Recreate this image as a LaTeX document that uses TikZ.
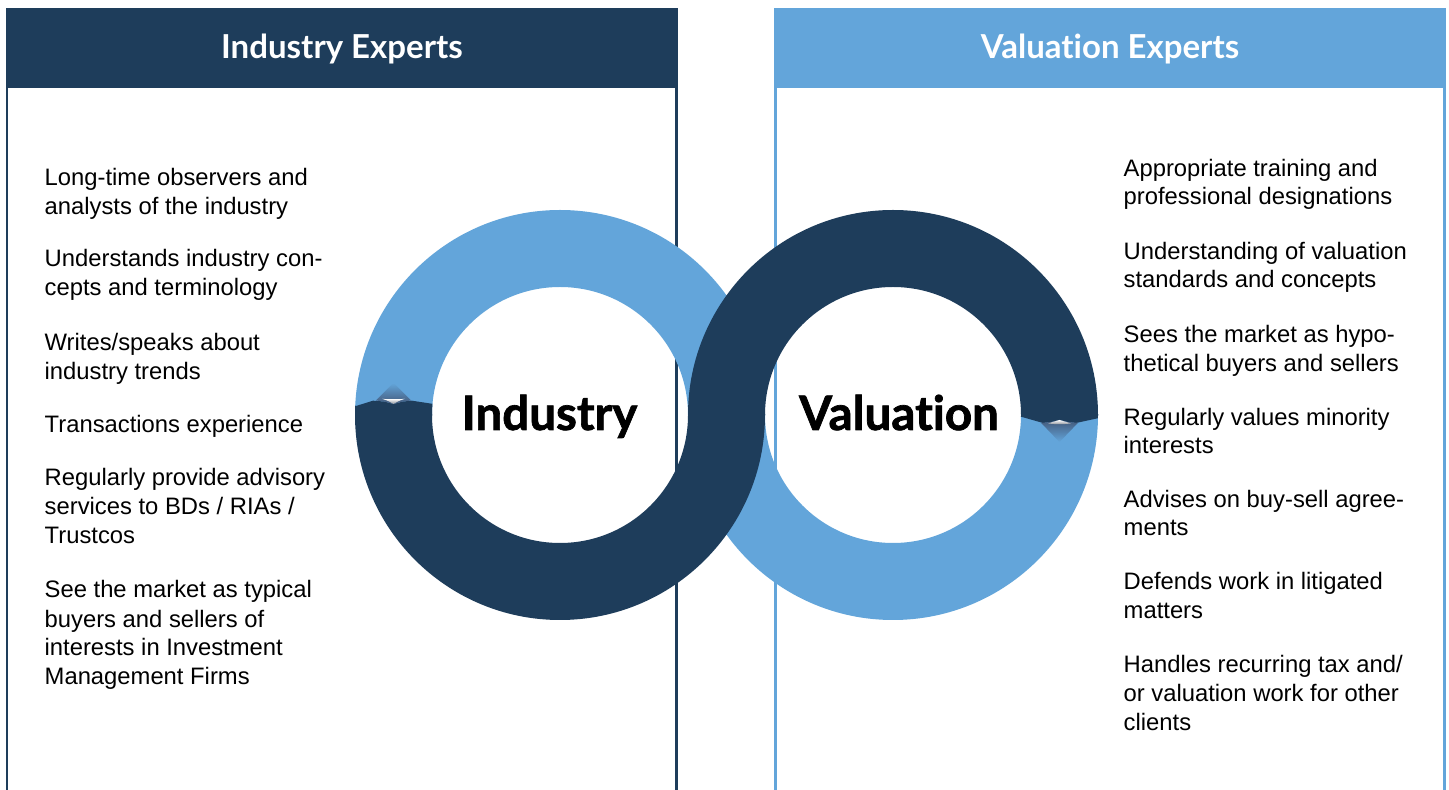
\documentclass[tikz,border=0pt]{standalone}
\usepackage{fontspec}
\setmainfont{Liberation Sans}
\newfontfamily\headfont{Lato}[Ligatures=NoCommon]
\newfontfamily\ringfont{Lato}[Ligatures=NoCommon,BoldFeatures={FakeBold=1.5}]
\definecolor{navy}{HTML}{1E3D5B}
\definecolor{sky}{HTML}{63A5DA}
\definecolor{silverlo}{HTML}{8A9099}
\definecolor{shadowc}{HTML}{43597A}
\tikzset{
  item/.style={anchor=base west, inner sep=0pt, font=\fontsize{23.8}{28}\selectfont, text=black},
  headtxt/.style={anchor=base, inner sep=0pt, text=white, font=\headfont\bfseries\fontsize{33}{36}\selectfont},
  ringtxt/.style={anchor=base, inner sep=0pt, text=black, font=\ringfont\bfseries\fontsize{47.5}{50}\selectfont},
  boxline/.style={line width=2.4pt},
}
\begin{document}
\begin{tikzpicture}[x=1pt,y=1pt]
\useasboundingbox (0,0) rectangle (1449,790);
\fill[white] (0,0) rectangle (1449,790);

% box borders
\draw[boxline,navy] (7.2,702) -- (7.2,0);
\draw[boxline,navy] (676.5,702) -- (676.5,0);
\draw[boxline,sky] (775.3,702) -- (775.3,0);
\draw[boxline,sky] (1444.6,702) -- (1444.6,0);

% headers
\fill[navy] (6,702) rectangle (678,782);
\fill[sky] (774,702) rectangle (1446,782);
\node[headtxt] (hind) at (342,731) {Industry Experts};
\node[headtxt] (hval) at (1110,731) {Valuation Experts};

% rings
\coordinate (cl) at (560,375);
\coordinate (cr) at (893,375);
\begin{scope}
  \clip (300,375) rectangle (1200,600);
  \fill[sky,even odd rule] (cl) circle[radius=205pt] (cl) circle[radius=128pt];
\end{scope}
\begin{scope}
  \clip (300,150) rectangle (1200,375);
  \fill[sky,even odd rule] (cr) circle[radius=205pt] (cr) circle[radius=128pt];
\end{scope}
\begin{scope}
  \clip (300,150) rectangle (1200,375);
  \fill[navy,even odd rule] (cl) circle[radius=205pt] (cl) circle[radius=128pt];
\end{scope}
\begin{scope}
  \clip (300,375) rectangle (1200,600);
  \fill[navy,even odd rule] (cr) circle[radius=205pt] (cr) circle[radius=128pt];
\end{scope}

% left notch
\begin{scope}[even odd rule]
  \clip (cl) circle[radius=205pt] (cl) circle[radius=128pt];
  \fill[navy] (345,374) -- (345,384) -- (356,384) -- (373,389.3) -- (384,388.5) -- (393.5,386) -- (403,388.5) -- (412,389.3) -- (440,385) -- (440,374) -- cycle;
  \shade[top color=sky, bottom color=shadowc] (376,389.5) -- (393.5,407) -- (411,389.5) -- (403,388.5) -- (393.5,386) -- (384,388.5) -- cycle;
  \shade[top color=white, bottom color=silverlo] (382,391.2) .. controls (388,390.6) and (399,390.6) .. (405,391.2) .. controls (399,389.5) and (395,387) .. (393.5,386) .. controls (392,387) and (388,389.5) .. (382,391.2) -- cycle;
\end{scope}

% right notch
\begin{scope}[even odd rule]
  \clip (cr) circle[radius=205pt] (cr) circle[radius=128pt];
  \fill[navy] (1012,376) -- (1012,373.3) -- (1021,373.3) -- (1043,367) -- (1051,368) -- (1059.5,370) -- (1068,368) -- (1076,367) -- (1105,373.3) -- (1105,376) -- cycle;
  \shade[top color=shadowc, bottom color=sky] (1041,367.2) -- (1051,368) -- (1059.5,370) -- (1068,368) -- (1078,367.2) -- (1059.5,348) -- cycle;
  \shade[top color=white, bottom color=silverlo] (1048,366.6) .. controls (1053,368) and (1057,369.3) .. (1059.5,370) .. controls (1062,369.3) and (1066,368) .. (1071,366.6) .. controls (1065,365.6) and (1054,365.6) .. (1048,366.6) -- cycle;
\end{scope}

\node[ringtxt] (tind) at (549.5,360) {Industry};
\node[ringtxt] (tval) at (899,360) {Valuation};

% left list
\node[item] (l1a) at (44.5,604.3) {Long-time observers and};
\node[item] (l1b) at (44.5,575) {analysts of the industry};
\node[item] (l2a) at (44.5,523.3) {Understands industry con-};
\node[item] (l2b) at (44.5,494) {cepts and terminology};
\node[item] (l3a) at (44.5,439.3) {Writes/speaks about};
\node[item] (l3b) at (44.5,410.7) {industry trends};
\node[item] (l4a) at (44.5,357.7) {Transactions experience};
\node[item] (l5a) at (44.5,304.3) {Regularly provide advisory};
\node[item] (l5b) at (44.5,275) {services to BDs / RIAs /};
\node[item] (l5c) at (44.5,246) {Trustcos};
\node[item] (l6a) at (44.5,192.3) {See the market as typical};
\node[item] (l6b) at (44.5,162.7) {buyers and sellers of};
\node[item] (l6c) at (44.5,134) {interests in Investment};
\node[item] (l6d) at (44.5,105) {Management Firms};

% right list
\node[item] (r1a) at (1123.5,613.3) {Appropriate training and};
\node[item] (r1b) at (1123.5,585) {professional designations};
\node[item] (r2a) at (1123.5,530.7) {Understanding of valuation};
\node[item] (r2b) at (1123.5,502.3) {standards and concepts};
\node[item] (r3a) at (1123.5,447.3) {Sees the market as hypo-};
\node[item] (r3b) at (1123.5,418.3) {thetical buyers and sellers};
\node[item] (r4a) at (1123.5,364) {Regularly values minority};
\node[item] (r4b) at (1123.5,336) {interests};
\node[item] (r5a) at (1123.5,282.7) {Advises on buy-sell agree-};
\node[item] (r5b) at (1123.5,254) {ments};
\node[item] (r6a) at (1123.5,200) {Defends work in litigated};
\node[item] (r6b) at (1123.5,171.7) {matters};
\node[item] (r7a) at (1123.5,117.3) {Handles recurring tax and/};
\node[item] (r7b) at (1123.5,88.3) {or valuation work for other};
\node[item] (r7c) at (1123.5,59) {clients};
\end{tikzpicture}
\end{document}
